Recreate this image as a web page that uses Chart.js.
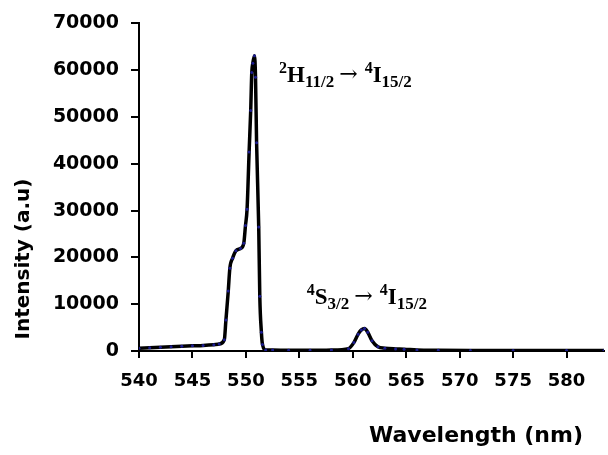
<!DOCTYPE html>
<html>
<head>
<meta charset="utf-8">
<script src="https://cdn.jsdelivr.net/npm/chart.js@4"></script>
<style>
  html, body { margin: 0; padding: 0; background: #fff; }
  #wrap { width: 608px; height: 455px; }
</style>
</head>
<body>
<div id="wrap"><canvas id="chart" width="608" height="455"></canvas></div>
<script>
// wavelength (nm) and intensity (a.u)
const wavelength = [540, 541, 542, 543, 544, 545, 546, 547, 547.5, 547.98, 548.13, 548.35, 548.5, 548.75, 549.06, 549.5, 549.8, 549.96, 550.11, 550.3, 550.45, 550.55, 550.65, 550.8, 550.9, 551.0, 551.2, 551.3, 551.45, 551.55, 551.85, 552.5, 554, 556, 558, 559.6, 560.1, 560.5, 560.8, 561.1, 561.4, 561.8, 562.35, 563, 564, 564.8, 566, 568, 571, 575, 580, 583.5];
const intensity = [600, 700, 800, 900, 1000, 1100, 1200, 1350, 1500, 2400, 6600, 12800, 17700, 19800, 21400, 21900, 23000, 26800, 30300, 42500, 51400, 59500, 61500, 63100, 58500, 44500, 26500, 11700, 4000, 1400, 200, 200, 150, 150, 200, 500, 1800, 3600, 4500, 4800, 4000, 2200, 900, 600, 450, 400, 200, 150, 120, 100, 100, 100];

const xTicks = [540, 545, 550, 555, 560, 565, 570, 575, 580];
const yTicks = [0, 10000, 20000, 30000, 40000, 50000, 60000, 70000];

// transition labels, anchored in data coordinates (nm, a.u)
const labels = [
  { at: [553.1, 57400], parts: [["2", "sup"], ["H", ""], ["11/2", "sub"], ["\u2192", "arr"], ["4", "sup"], ["I", ""], ["15/2", "sub"]] },
  { at: [555.7, 10100], parts: [["4", "sup"], ["S", ""], ["3/2", "sub"], ["\u2192", "arr"], ["4", "sup"], ["I", ""], ["15/2", "sub"]] }
];

const points = wavelength.map((w, i) => ({ x: w, y: intensity[i] }));

const textPlugin = {
  id: "texts",
  afterDraw(chart) {
    const ctx = chart.ctx;
    const xs = chart.scales.x, ys = chart.scales.y;
    ctx.save();
    ctx.fillStyle = "#000";
    ctx.textBaseline = "alphabetic";
    ctx.textAlign = "left";
    labels.forEach(l => {
      let x = xs.getPixelForValue(l.at[0]);
      const y = ys.getPixelForValue(l.at[1]);
      l.parts.forEach(([t, kind]) => {
        let dy = 0, gap = 0;
        if (kind === "sup") { ctx.font = "bold 16px 'Liberation Serif'"; dy = -9; }
        else if (kind === "sub") { ctx.font = "bold 17px 'Liberation Serif'"; dy = 5; }
        else if (kind === "arr") { ctx.font = "22px 'DejaVu Serif'"; dy = -1; x += 5; gap = 7; }
        else { ctx.font = "bold 23px 'Liberation Serif'"; }
        ctx.fillText(t, x, y + dy);
        x += ctx.measureText(t).width + gap;
      });
    });
    // axis titles
    ctx.font = "bold 22px 'DejaVu Sans'";
    ctx.textAlign = "center";
    ctx.textBaseline = "middle";
    ctx.fillText("Wavelength (nm)", 476, 436);
    ctx.translate(24, 259);
    ctx.rotate(-Math.PI / 2);
    ctx.font = "bold 20px 'DejaVu Sans'";
    ctx.fillText("Intensity (a.u)", 0, 0);
    ctx.restore();
  }
};

new Chart(document.getElementById("chart").getContext("2d"), {
  type: "line",
  data: {
    datasets: [{
      data: points,
      borderColor: "#000",
      borderWidth: 3.5,
      cubicInterpolationMode: "monotone",
      pointRadius: 1.5,
      pointBorderWidth: 0,
      pointBackgroundColor: "#1c1c90",
      fill: false
    }]
  },
  options: {
    responsive: false,
    animation: false,
    layout: { padding: { top: 16, right: 0, bottom: 0, left: 0 } },
    plugins: { legend: { display: false }, tooltip: { enabled: false } },
    scales: {
      x: {
        type: "linear",
        min: 540,
        max: 583.5,
        afterBuildTicks: s => { s.ticks = xTicks.map(v => ({ value: v })); },
        afterFit: s => { s.height = 104; },
        ticks: { color: "#000", padding: 13, callback: v => String(v), font: { family: "DejaVu Sans", weight: "bold", size: 18 } },
        grid: { drawOnChartArea: false, color: "#000", lineWidth: 2, tickLength: 7 },
        border: { color: "#000", width: 2 }
      },
      y: {
        min: 0,
        max: 70000,
        afterBuildTicks: s => { s.ticks = yTicks.map(v => ({ value: v })); },
        afterFit: s => { s.width = 139; },
        ticks: { color: "#000", padding: 12, callback: v => String(v), font: { family: "DejaVu Sans", weight: "bold", size: 19 } },
        grid: { drawOnChartArea: false, color: "#000", lineWidth: 2, tickLength: 8 },
        border: { color: "#000", width: 2 }
      }
    }
  },
  plugins: [textPlugin]
});
</script>
</body>
</html>
